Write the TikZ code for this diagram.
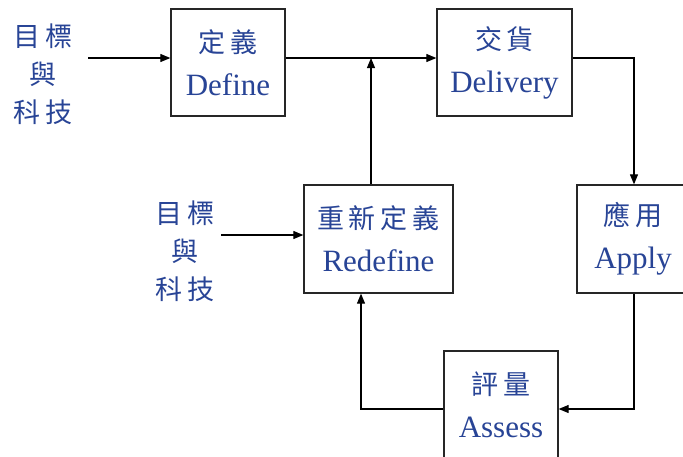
\documentclass[tikz,border=0pt]{standalone}
\usepackage{fontspec}
\setmainfont{Liberation Serif}
\newfontfamily\cjk{Noto Sans CJK TC}
\usetikzlibrary{arrows.meta}
\definecolor{txtblue}{RGB}{40,68,150}
\newcommand{\cg}{\hspace{5pt}}
\newcommand{\cjkt}{\cjk\fontsize{27}{38}\selectfont}
\begin{document}
\begin{tikzpicture}[x=1pt,y=-1pt,
  box/.style={draw=black!85, line width=1.3pt, fill=white, inner sep=0pt, align=center,
    text=txtblue, font=\fontsize{31}{38}\selectfont},
  arr/.style={line width=1.1pt, -{Triangle[length=10pt,width=8pt]}},
  src/.style={text=txtblue, align=center, inner sep=0pt, font=\cjkt}]
\useasboundingbox (0,0) rectangle (683,456);

\node[box, minimum width=114pt, minimum height=107pt] (define) at (228,62.5)
  {{\cjkt 定\cg 義}\\[5pt]Define};
\node[box, minimum width=135pt, minimum height=107pt] (delivery) at (504.5,62.5)
  {{\cjkt 交\cg 貨}\\[5pt]Delivery};
\node[box, minimum width=149pt, minimum height=108pt] (redefine) at (378.5,239)
  {{\cjkt 重\cg 新\cg 定\cg 義}\\[5pt]Redefine};
\node[box, minimum width=112pt, minimum height=108pt] (apply) at (633,239)
  {{\cjkt 應\cg 用}\\[5pt]Apply};
\node[box, minimum width=114pt, minimum height=108pt] (assess) at (501,405)
  {{\cjkt 評\cg 量}\\[5pt]Assess};

\node[src] (src1) at (43,74) {目\cg 標\\與\\科\cg 技};
\node[src] (src2) at (185,251) {目\cg 標\\與\\科\cg 技};

\coordinate (s1) at (88,58);
\coordinate (j1) at (371,58);
\coordinate (k1) at (634,58);
\coordinate (k2) at (634,409);
\coordinate (k3) at (361,409);
\coordinate (s2) at (221,235);

\draw[arr] (s1) -- (define.west |- s1);
\draw[arr] (define.east |- s1) -- (delivery.west |- s1);
\draw[arr] (redefine.north -| j1) -- (j1);
\draw[arr] (delivery.east |- k1) -- (k1) -- (apply.north -| k1);
\draw[arr] (apply.south -| k2) -- (k2) -- (assess.east |- k2);
\draw[arr] (assess.west |- k3) -- (k3) -- (redefine.south -| k3);
\draw[arr] (s2) -- (redefine.west |- s2);
\end{tikzpicture}
\end{document}
